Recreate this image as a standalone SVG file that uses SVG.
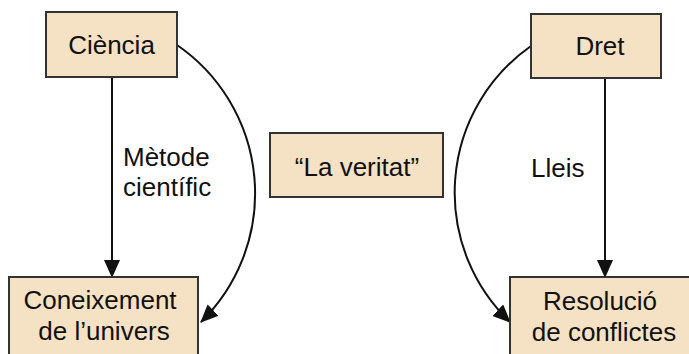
<svg xmlns="http://www.w3.org/2000/svg" width="689" height="354" viewBox="0 0 689 354">
<style>
.box{fill:#F5E1C3;stroke:#333;stroke-width:2}
.t{font-family:"Liberation Sans",Arial,sans-serif;font-size:26px;fill:#111}
.m{text-anchor:middle}
.c{fill:none;stroke:#111;stroke-width:2}
</style>
<defs>
<marker id="ah" viewBox="0 0 18 16" refX="17" refY="8" markerWidth="18" markerHeight="16" markerUnits="userSpaceOnUse" orient="auto">
<path d="M0,0 L18,8 L0,16 z" fill="#111"/>
</marker>
</defs>
<rect width="689" height="354" fill="#fff"/>
<g id="connectors">
<line class="c" x1="112" y1="77" x2="112" y2="277" marker-end="url(#ah)"/>
<line class="c" x1="605" y1="78" x2="605" y2="277" marker-end="url(#ah)"/>
<path class="c" d="M177,45 A180,180 0 0 1 201,322" marker-end="url(#ah)"/>
<path class="c" d="M531,46 A179,179 0 0 0 510,322" marker-end="url(#ah)"/>
<text class="t" x="123" y="166">Mètode</text>
<text class="t" x="123" y="196">científic</text>
<text class="t" x="531" y="177">Lleis</text>
</g>
<g id="ciencia">
<rect class="box" x="46" y="12" width="131" height="65"/>
<text class="t m" x="111.5" y="54">Ciència</text>
</g>
<g id="dret">
<rect class="box" x="531" y="14" width="130" height="64"/>
<text class="t m" x="600" y="55">Dret</text>
</g>
<g id="veritat">
<rect class="box" x="270" y="133" width="173" height="64"/>
<text class="t m" x="357" y="176">“La veritat”</text>
</g>
<g id="coneixement">
<rect class="box" x="9" y="277" width="189" height="90"/>
<text class="t m" x="100" y="309">Coneixement</text>
<text class="t m" x="104" y="340">de l’univers</text>
</g>
<g id="resolucio">
<rect class="box" x="510" y="277" width="190" height="90"/>
<text class="t m" x="600" y="310">Resolució</text>
<text class="t m" x="604" y="341">de conflictes</text>
</g>
</svg>
